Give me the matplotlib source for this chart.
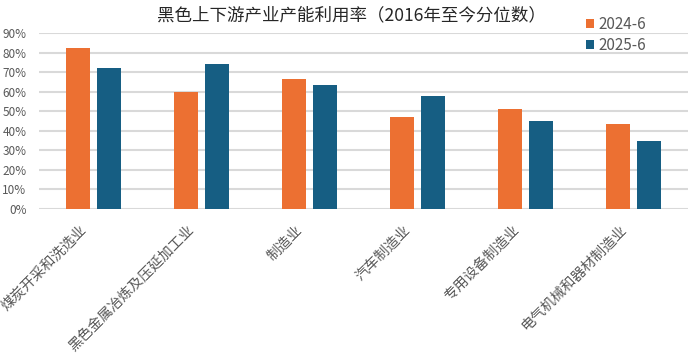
import numpy as np
import matplotlib
matplotlib.use('Agg')
import matplotlib.pyplot as plt
from matplotlib.transforms import Affine2D

plt.rcParams['font.family'] = ['Noto Sans CJK SC', 'DejaVu Sans']

categories = ['煤炭开采和洗选业', '黑色金属冶炼及压延加工业', '制造业',
              '汽车制造业', '专用设备制造业', '电气机械和器材制造业']
series_names = ['2024-6', '2025-6']
vals_2024 = [82.4, 60.0, 66.4, 47.0, 51.0, 43.4]
vals_2025 = [72.0, 74.2, 63.4, 57.8, 45.0, 35.0]
yticks = [0, 10, 20, 30, 40, 50, 60, 70, 80, 90]
title = '黑色上下游产业产能利用率（2016年至今分位数）'

orange = '#EC7032'
blue = '#165E83'
grey = '#595959'

fig = plt.figure(figsize=(7, 3.64), dpi=100)
ax = fig.add_axes([0.0557, 0.4258, 0.927, 0.4827])

x = np.arange(len(categories))
w = 0.222
off = 0.143
ax.bar(x - off, vals_2024, w, color=orange, label=series_names[0], zorder=3)
ax.bar(x + off, vals_2025, w, color=blue, label=series_names[1], zorder=3)

ax.set_xlim(-0.5, len(categories) - 0.5)
ax.set_ylim(0, 90)
ax.set_yticks(yticks)
ax.set_yticklabels([f'{t}%' for t in yticks], fontsize=8.5, color=grey)
ax.yaxis.grid(True, color='#D9D9D9', linewidth=1.5, zorder=0)
ax.set_axisbelow(True)
for s in ax.spines.values():
    s.set_visible(False)
ax.tick_params(axis='both', length=0)
ax.tick_params(axis='y', pad=9)
ax.tick_params(axis='x', pad=10)

ax.set_xticks(x)
ax.set_xticklabels(categories, rotation=45, ha='right', rotation_mode='anchor',
                   fontsize=10.3, color=grey)
for lbl in ax.get_xticklabels():
    lbl.set_transform(lbl.get_transform() + Affine2D().translate(-14, 0))

fig.text(0.502, 0.957, title, ha='center', va='center', fontsize=12.6, color='#262626')

fig.legend(loc='upper left', bbox_to_anchor=(0.818, 0.995), frameon=False,
           fontsize=11, labelcolor=grey, handlelength=0.5, handleheight=0.5,
           handletextpad=0.3, labelspacing=0.3)

fig.savefig('out.png', dpi=100)
